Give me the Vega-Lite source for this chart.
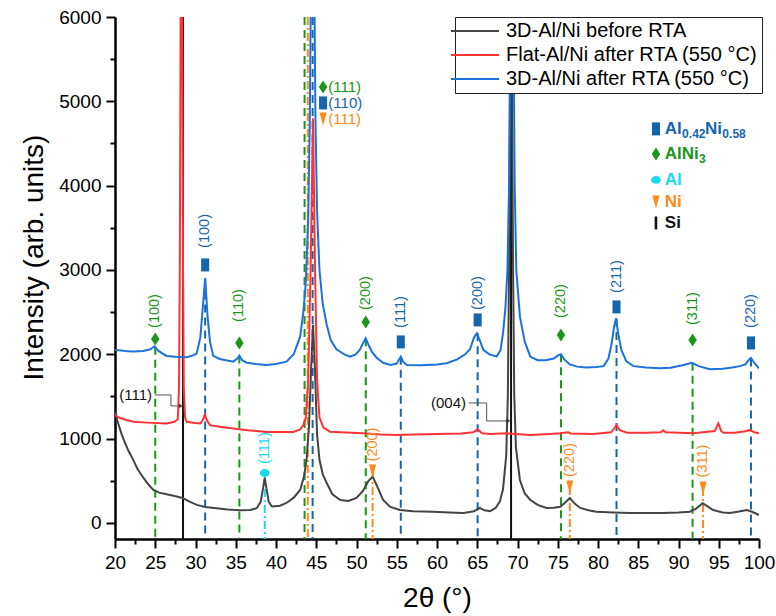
{
  "$schema": "https://vega.github.io/schema/vega-lite/v6.json",
  "width": 644,
  "height": 522,
  "autosize": {"type": "none"},
  "padding": {"left": 115, "top": 17, "right": 17, "bottom": 77},
  "config": {
    "view": {"stroke": null},
    "font": "Liberation Sans",
    "text": {"font": "Liberation Sans"}
  },
  "datasets": {
    "spectra": [
      {"series": "3D-Al/Ni before RTA", "x": 20.0, "y": 1320},
      {"series": "3D-Al/Ni before RTA", "x": 20.4, "y": 1180},
      {"series": "3D-Al/Ni before RTA", "x": 20.8, "y": 1060},
      {"series": "3D-Al/Ni before RTA", "x": 21.2, "y": 960},
      {"series": "3D-Al/Ni before RTA", "x": 21.7, "y": 850},
      {"series": "3D-Al/Ni before RTA", "x": 22.2, "y": 760},
      {"series": "3D-Al/Ni before RTA", "x": 22.8, "y": 640},
      {"series": "3D-Al/Ni before RTA", "x": 23.5, "y": 540},
      {"series": "3D-Al/Ni before RTA", "x": 24.2, "y": 450},
      {"series": "3D-Al/Ni before RTA", "x": 24.8, "y": 390},
      {"series": "3D-Al/Ni before RTA", "x": 25.5, "y": 360},
      {"series": "3D-Al/Ni before RTA", "x": 26.4, "y": 340},
      {"series": "3D-Al/Ni before RTA", "x": 27.4, "y": 320},
      {"series": "3D-Al/Ni before RTA", "x": 28.4, "y": 296},
      {"series": "3D-Al/Ni before RTA", "x": 29.2, "y": 255},
      {"series": "3D-Al/Ni before RTA", "x": 30.15, "y": 215},
      {"series": "3D-Al/Ni before RTA", "x": 31.2, "y": 190},
      {"series": "3D-Al/Ni before RTA", "x": 32.6, "y": 175},
      {"series": "3D-Al/Ni before RTA", "x": 34.0, "y": 160},
      {"series": "3D-Al/Ni before RTA", "x": 35.5, "y": 150},
      {"series": "3D-Al/Ni before RTA", "x": 36.8, "y": 155},
      {"series": "3D-Al/Ni before RTA", "x": 37.6, "y": 175},
      {"series": "3D-Al/Ni before RTA", "x": 38.1, "y": 250},
      {"series": "3D-Al/Ni before RTA", "x": 38.4, "y": 420},
      {"series": "3D-Al/Ni before RTA", "x": 38.6, "y": 534},
      {"series": "3D-Al/Ni before RTA", "x": 38.8, "y": 420},
      {"series": "3D-Al/Ni before RTA", "x": 39.1, "y": 250},
      {"series": "3D-Al/Ni before RTA", "x": 39.5, "y": 195},
      {"series": "3D-Al/Ni before RTA", "x": 40.5, "y": 205},
      {"series": "3D-Al/Ni before RTA", "x": 41.3, "y": 237},
      {"series": "3D-Al/Ni before RTA", "x": 42.2, "y": 300},
      {"series": "3D-Al/Ni before RTA", "x": 43.0, "y": 391},
      {"series": "3D-Al/Ni before RTA", "x": 43.5, "y": 560},
      {"series": "3D-Al/Ni before RTA", "x": 43.8, "y": 750},
      {"series": "3D-Al/Ni before RTA", "x": 44.1, "y": 1150},
      {"series": "3D-Al/Ni before RTA", "x": 44.35, "y": 1800},
      {"series": "3D-Al/Ni before RTA", "x": 44.6, "y": 2350},
      {"series": "3D-Al/Ni before RTA", "x": 44.85, "y": 1800},
      {"series": "3D-Al/Ni before RTA", "x": 45.1, "y": 1050},
      {"series": "3D-Al/Ni before RTA", "x": 45.4, "y": 750},
      {"series": "3D-Al/Ni before RTA", "x": 45.8, "y": 580},
      {"series": "3D-Al/Ni before RTA", "x": 46.3, "y": 474},
      {"series": "3D-Al/Ni before RTA", "x": 47.0, "y": 340},
      {"series": "3D-Al/Ni before RTA", "x": 48.0, "y": 273},
      {"series": "3D-Al/Ni before RTA", "x": 49.0, "y": 260},
      {"series": "3D-Al/Ni before RTA", "x": 50.0, "y": 296},
      {"series": "3D-Al/Ni before RTA", "x": 50.8, "y": 380},
      {"series": "3D-Al/Ni before RTA", "x": 51.5, "y": 500},
      {"series": "3D-Al/Ni before RTA", "x": 52.0, "y": 549},
      {"series": "3D-Al/Ni before RTA", "x": 52.5, "y": 450},
      {"series": "3D-Al/Ni before RTA", "x": 53.3, "y": 273},
      {"series": "3D-Al/Ni before RTA", "x": 54.2, "y": 190},
      {"series": "3D-Al/Ni before RTA", "x": 55.4, "y": 154},
      {"series": "3D-Al/Ni before RTA", "x": 57.0, "y": 140},
      {"series": "3D-Al/Ni before RTA", "x": 59.5, "y": 134},
      {"series": "3D-Al/Ni before RTA", "x": 61.5, "y": 125},
      {"series": "3D-Al/Ni before RTA", "x": 63.3, "y": 119},
      {"series": "3D-Al/Ni before RTA", "x": 64.6, "y": 140},
      {"series": "3D-Al/Ni before RTA", "x": 65.3, "y": 178},
      {"series": "3D-Al/Ni before RTA", "x": 65.9, "y": 150},
      {"series": "3D-Al/Ni before RTA", "x": 66.6, "y": 140},
      {"series": "3D-Al/Ni before RTA", "x": 67.3, "y": 180},
      {"series": "3D-Al/Ni before RTA", "x": 67.8, "y": 253},
      {"series": "3D-Al/Ni before RTA", "x": 68.2, "y": 400},
      {"series": "3D-Al/Ni before RTA", "x": 68.6, "y": 800},
      {"series": "3D-Al/Ni before RTA", "x": 68.8, "y": 1500},
      {"series": "3D-Al/Ni before RTA", "x": 68.95, "y": 3000},
      {"series": "3D-Al/Ni before RTA", "x": 69.1, "y": 5500},
      {"series": "3D-Al/Ni before RTA", "x": 69.2, "y": 8000},
      {"series": "3D-Al/Ni before RTA", "x": 69.3, "y": 5500},
      {"series": "3D-Al/Ni before RTA", "x": 69.45, "y": 3000},
      {"series": "3D-Al/Ni before RTA", "x": 69.6, "y": 1500},
      {"series": "3D-Al/Ni before RTA", "x": 69.8, "y": 900},
      {"series": "3D-Al/Ni before RTA", "x": 70.3, "y": 510},
      {"series": "3D-Al/Ni before RTA", "x": 70.9, "y": 350},
      {"series": "3D-Al/Ni before RTA", "x": 71.6, "y": 273},
      {"series": "3D-Al/Ni before RTA", "x": 72.5, "y": 215},
      {"series": "3D-Al/Ni before RTA", "x": 73.6, "y": 178},
      {"series": "3D-Al/Ni before RTA", "x": 74.5, "y": 180},
      {"series": "3D-Al/Ni before RTA", "x": 75.3, "y": 193},
      {"series": "3D-Al/Ni before RTA", "x": 75.9, "y": 240},
      {"series": "3D-Al/Ni before RTA", "x": 76.5, "y": 296},
      {"series": "3D-Al/Ni before RTA", "x": 77.1, "y": 230},
      {"series": "3D-Al/Ni before RTA", "x": 77.8, "y": 178},
      {"series": "3D-Al/Ni before RTA", "x": 78.8, "y": 150},
      {"series": "3D-Al/Ni before RTA", "x": 79.8, "y": 134},
      {"series": "3D-Al/Ni before RTA", "x": 82.0, "y": 125},
      {"series": "3D-Al/Ni before RTA", "x": 84.0, "y": 119},
      {"series": "3D-Al/Ni before RTA", "x": 86.0, "y": 119},
      {"series": "3D-Al/Ni before RTA", "x": 88.1, "y": 119},
      {"series": "3D-Al/Ni before RTA", "x": 90.0, "y": 125},
      {"series": "3D-Al/Ni before RTA", "x": 91.4, "y": 134},
      {"series": "3D-Al/Ni before RTA", "x": 92.2, "y": 170},
      {"series": "3D-Al/Ni before RTA", "x": 93.0, "y": 234},
      {"series": "3D-Al/Ni before RTA", "x": 93.7, "y": 190},
      {"series": "3D-Al/Ni before RTA", "x": 94.3, "y": 154},
      {"series": "3D-Al/Ni before RTA", "x": 95.5, "y": 125},
      {"series": "3D-Al/Ni before RTA", "x": 96.4, "y": 119},
      {"series": "3D-Al/Ni before RTA", "x": 97.5, "y": 135},
      {"series": "3D-Al/Ni before RTA", "x": 98.5, "y": 154},
      {"series": "3D-Al/Ni before RTA", "x": 99.2, "y": 130},
      {"series": "3D-Al/Ni before RTA", "x": 100.0, "y": 95},

      {"series": "Flat-Al/Ni after RTA (550 °C)", "x": 20.0, "y": 1280},
      {"series": "Flat-Al/Ni after RTA (550 °C)", "x": 20.5, "y": 1250},
      {"series": "Flat-Al/Ni after RTA (550 °C)", "x": 21.3, "y": 1225},
      {"series": "Flat-Al/Ni after RTA (550 °C)", "x": 22.3, "y": 1200},
      {"series": "Flat-Al/Ni after RTA (550 °C)", "x": 24.0, "y": 1190},
      {"series": "Flat-Al/Ni after RTA (550 °C)", "x": 26.4, "y": 1180},
      {"series": "Flat-Al/Ni after RTA (550 °C)", "x": 27.4, "y": 1200},
      {"series": "Flat-Al/Ni after RTA (550 °C)", "x": 27.8, "y": 1230},
      {"series": "Flat-Al/Ni after RTA (550 °C)", "x": 27.95, "y": 1600},
      {"series": "Flat-Al/Ni after RTA (550 °C)", "x": 28.05, "y": 3000},
      {"series": "Flat-Al/Ni after RTA (550 °C)", "x": 28.15, "y": 6000},
      {"series": "Flat-Al/Ni after RTA (550 °C)", "x": 28.25, "y": 9000},
      {"series": "Flat-Al/Ni after RTA (550 °C)", "x": 28.35, "y": 6000},
      {"series": "Flat-Al/Ni after RTA (550 °C)", "x": 28.45, "y": 3000},
      {"series": "Flat-Al/Ni after RTA (550 °C)", "x": 28.55, "y": 1600},
      {"series": "Flat-Al/Ni after RTA (550 °C)", "x": 28.7, "y": 1250},
      {"series": "Flat-Al/Ni after RTA (550 °C)", "x": 28.9, "y": 1200},
      {"series": "Flat-Al/Ni after RTA (550 °C)", "x": 30.0, "y": 1185},
      {"series": "Flat-Al/Ni after RTA (550 °C)", "x": 30.6, "y": 1180},
      {"series": "Flat-Al/Ni after RTA (550 °C)", "x": 30.9, "y": 1220},
      {"series": "Flat-Al/Ni after RTA (550 °C)", "x": 31.15, "y": 1285},
      {"series": "Flat-Al/Ni after RTA (550 °C)", "x": 31.4, "y": 1220},
      {"series": "Flat-Al/Ni after RTA (550 °C)", "x": 31.8, "y": 1160},
      {"series": "Flat-Al/Ni after RTA (550 °C)", "x": 33.0, "y": 1140},
      {"series": "Flat-Al/Ni after RTA (550 °C)", "x": 34.7, "y": 1120},
      {"series": "Flat-Al/Ni after RTA (550 °C)", "x": 36.5, "y": 1100},
      {"series": "Flat-Al/Ni after RTA (550 °C)", "x": 38.85, "y": 1080},
      {"series": "Flat-Al/Ni after RTA (550 °C)", "x": 41.0, "y": 1080},
      {"series": "Flat-Al/Ni after RTA (550 °C)", "x": 42.15, "y": 1080},
      {"series": "Flat-Al/Ni after RTA (550 °C)", "x": 43.0, "y": 1110},
      {"series": "Flat-Al/Ni after RTA (550 °C)", "x": 43.4, "y": 1160},
      {"series": "Flat-Al/Ni after RTA (550 °C)", "x": 43.7, "y": 1250},
      {"series": "Flat-Al/Ni after RTA (550 °C)", "x": 44.0, "y": 1700},
      {"series": "Flat-Al/Ni after RTA (550 °C)", "x": 44.3, "y": 3000},
      {"series": "Flat-Al/Ni after RTA (550 °C)", "x": 44.6, "y": 4800},
      {"series": "Flat-Al/Ni after RTA (550 °C)", "x": 44.85, "y": 3000},
      {"series": "Flat-Al/Ni after RTA (550 °C)", "x": 45.1, "y": 1700},
      {"series": "Flat-Al/Ni after RTA (550 °C)", "x": 45.4, "y": 1250},
      {"series": "Flat-Al/Ni after RTA (550 °C)", "x": 45.9, "y": 1130},
      {"series": "Flat-Al/Ni after RTA (550 °C)", "x": 46.7, "y": 1083},
      {"series": "Flat-Al/Ni after RTA (550 °C)", "x": 48.0, "y": 1075},
      {"series": "Flat-Al/Ni after RTA (550 °C)", "x": 50.85, "y": 1063},
      {"series": "Flat-Al/Ni after RTA (550 °C)", "x": 53.0, "y": 1050},
      {"series": "Flat-Al/Ni after RTA (550 °C)", "x": 55.0, "y": 1044},
      {"series": "Flat-Al/Ni after RTA (550 °C)", "x": 57.0, "y": 1050},
      {"series": "Flat-Al/Ni after RTA (550 °C)", "x": 60.0, "y": 1055},
      {"series": "Flat-Al/Ni after RTA (550 °C)", "x": 63.0, "y": 1060},
      {"series": "Flat-Al/Ni after RTA (550 °C)", "x": 64.5, "y": 1075},
      {"series": "Flat-Al/Ni after RTA (550 °C)", "x": 65.05, "y": 1110},
      {"series": "Flat-Al/Ni after RTA (550 °C)", "x": 65.6, "y": 1065},
      {"series": "Flat-Al/Ni after RTA (550 °C)", "x": 66.6, "y": 1055},
      {"series": "Flat-Al/Ni after RTA (550 °C)", "x": 68.65, "y": 1063},
      {"series": "Flat-Al/Ni after RTA (550 °C)", "x": 71.6, "y": 1044},
      {"series": "Flat-Al/Ni after RTA (550 °C)", "x": 74.0, "y": 1055},
      {"series": "Flat-Al/Ni after RTA (550 °C)", "x": 75.3, "y": 1063},
      {"series": "Flat-Al/Ni after RTA (550 °C)", "x": 76.3, "y": 1075},
      {"series": "Flat-Al/Ni after RTA (550 °C)", "x": 76.6, "y": 1062},
      {"series": "Flat-Al/Ni after RTA (550 °C)", "x": 79.4, "y": 1055},
      {"series": "Flat-Al/Ni after RTA (550 °C)", "x": 81.6, "y": 1075},
      {"series": "Flat-Al/Ni after RTA (550 °C)", "x": 82.0, "y": 1120},
      {"series": "Flat-Al/Ni after RTA (550 °C)", "x": 82.3, "y": 1162},
      {"series": "Flat-Al/Ni after RTA (550 °C)", "x": 82.7, "y": 1100},
      {"series": "Flat-Al/Ni after RTA (550 °C)", "x": 83.6, "y": 1071},
      {"series": "Flat-Al/Ni after RTA (550 °C)", "x": 86.0, "y": 1070},
      {"series": "Flat-Al/Ni after RTA (550 °C)", "x": 87.8, "y": 1075},
      {"series": "Flat-Al/Ni after RTA (550 °C)", "x": 88.1, "y": 1100},
      {"series": "Flat-Al/Ni after RTA (550 °C)", "x": 88.4, "y": 1075},
      {"series": "Flat-Al/Ni after RTA (550 °C)", "x": 91.85, "y": 1063},
      {"series": "Flat-Al/Ni after RTA (550 °C)", "x": 94.5, "y": 1090},
      {"series": "Flat-Al/Ni after RTA (550 °C)", "x": 94.95, "y": 1182},
      {"series": "Flat-Al/Ni after RTA (550 °C)", "x": 95.3, "y": 1090},
      {"series": "Flat-Al/Ni after RTA (550 °C)", "x": 95.6, "y": 1070},
      {"series": "Flat-Al/Ni after RTA (550 °C)", "x": 97.0, "y": 1070},
      {"series": "Flat-Al/Ni after RTA (550 °C)", "x": 98.5, "y": 1090},
      {"series": "Flat-Al/Ni after RTA (550 °C)", "x": 98.9, "y": 1103},
      {"series": "Flat-Al/Ni after RTA (550 °C)", "x": 99.4, "y": 1075},
      {"series": "Flat-Al/Ni after RTA (550 °C)", "x": 100.0, "y": 1063},

      {"series": "3D-Al/Ni after RTA (550 °C)", "x": 20.0, "y": 2052},
      {"series": "3D-Al/Ni after RTA (550 °C)", "x": 20.8, "y": 2045},
      {"series": "3D-Al/Ni after RTA (550 °C)", "x": 21.6, "y": 2035},
      {"series": "3D-Al/Ni after RTA (550 °C)", "x": 22.3, "y": 2032},
      {"series": "3D-Al/Ni after RTA (550 °C)", "x": 23.5, "y": 2040},
      {"series": "3D-Al/Ni after RTA (550 °C)", "x": 24.4, "y": 2060},
      {"series": "3D-Al/Ni after RTA (550 °C)", "x": 24.9, "y": 2095},
      {"series": "3D-Al/Ni after RTA (550 °C)", "x": 25.4, "y": 2040},
      {"series": "3D-Al/Ni after RTA (550 °C)", "x": 26.4, "y": 1981},
      {"series": "3D-Al/Ni after RTA (550 °C)", "x": 27.5, "y": 1970},
      {"series": "3D-Al/Ni after RTA (550 °C)", "x": 28.9, "y": 1965},
      {"series": "3D-Al/Ni after RTA (550 °C)", "x": 29.8, "y": 1990},
      {"series": "3D-Al/Ni after RTA (550 °C)", "x": 30.15, "y": 2012},
      {"series": "3D-Al/Ni after RTA (550 °C)", "x": 30.6, "y": 2200},
      {"series": "3D-Al/Ni after RTA (550 °C)", "x": 30.9, "y": 2550},
      {"series": "3D-Al/Ni after RTA (550 °C)", "x": 31.2, "y": 2902},
      {"series": "3D-Al/Ni after RTA (550 °C)", "x": 31.5, "y": 2450},
      {"series": "3D-Al/Ni after RTA (550 °C)", "x": 31.8, "y": 2150},
      {"series": "3D-Al/Ni after RTA (550 °C)", "x": 32.2, "y": 1981},
      {"series": "3D-Al/Ni after RTA (550 °C)", "x": 33.0, "y": 1945},
      {"series": "3D-Al/Ni after RTA (550 °C)", "x": 34.7, "y": 1913},
      {"series": "3D-Al/Ni after RTA (550 °C)", "x": 35.2, "y": 1950},
      {"series": "3D-Al/Ni after RTA (550 °C)", "x": 35.45, "y": 1985},
      {"series": "3D-Al/Ni after RTA (550 °C)", "x": 35.8, "y": 1930},
      {"series": "3D-Al/Ni after RTA (550 °C)", "x": 36.35, "y": 1901},
      {"series": "3D-Al/Ni after RTA (550 °C)", "x": 37.5, "y": 1885},
      {"series": "3D-Al/Ni after RTA (550 °C)", "x": 38.85, "y": 1874},
      {"series": "3D-Al/Ni after RTA (550 °C)", "x": 40.0, "y": 1885},
      {"series": "3D-Al/Ni after RTA (550 °C)", "x": 41.3, "y": 1913},
      {"series": "3D-Al/Ni after RTA (550 °C)", "x": 42.2, "y": 2000},
      {"series": "3D-Al/Ni after RTA (550 °C)", "x": 43.0, "y": 2209},
      {"series": "3D-Al/Ni after RTA (550 °C)", "x": 43.4, "y": 2500},
      {"series": "3D-Al/Ni after RTA (550 °C)", "x": 43.7, "y": 2850},
      {"series": "3D-Al/Ni after RTA (550 °C)", "x": 44.0, "y": 3600},
      {"series": "3D-Al/Ni after RTA (550 °C)", "x": 44.2, "y": 4800},
      {"series": "3D-Al/Ni after RTA (550 °C)", "x": 44.35, "y": 6500},
      {"series": "3D-Al/Ni after RTA (550 °C)", "x": 44.55, "y": 9000},
      {"series": "3D-Al/Ni after RTA (550 °C)", "x": 44.75, "y": 6500},
      {"series": "3D-Al/Ni after RTA (550 °C)", "x": 44.9, "y": 4800},
      {"series": "3D-Al/Ni after RTA (550 °C)", "x": 45.1, "y": 3700},
      {"series": "3D-Al/Ni after RTA (550 °C)", "x": 45.4, "y": 3000},
      {"series": "3D-Al/Ni after RTA (550 °C)", "x": 45.8, "y": 2600},
      {"series": "3D-Al/Ni after RTA (550 °C)", "x": 46.3, "y": 2350},
      {"series": "3D-Al/Ni after RTA (550 °C)", "x": 46.8, "y": 2170},
      {"series": "3D-Al/Ni after RTA (550 °C)", "x": 47.5, "y": 2060},
      {"series": "3D-Al/Ni after RTA (550 °C)", "x": 48.5, "y": 2000},
      {"series": "3D-Al/Ni after RTA (550 °C)", "x": 49.2, "y": 1972},
      {"series": "3D-Al/Ni after RTA (550 °C)", "x": 49.9, "y": 2000},
      {"series": "3D-Al/Ni after RTA (550 °C)", "x": 50.4, "y": 2052},
      {"series": "3D-Al/Ni after RTA (550 °C)", "x": 50.8, "y": 2130},
      {"series": "3D-Al/Ni after RTA (550 °C)", "x": 51.15, "y": 2190},
      {"series": "3D-Al/Ni after RTA (550 °C)", "x": 51.5, "y": 2110},
      {"series": "3D-Al/Ni after RTA (550 °C)", "x": 51.9, "y": 2032},
      {"series": "3D-Al/Ni after RTA (550 °C)", "x": 52.5, "y": 1960},
      {"series": "3D-Al/Ni after RTA (550 °C)", "x": 53.3, "y": 1900},
      {"series": "3D-Al/Ni after RTA (550 °C)", "x": 54.2, "y": 1874},
      {"series": "3D-Al/Ni after RTA (550 °C)", "x": 55.0, "y": 1890},
      {"series": "3D-Al/Ni after RTA (550 °C)", "x": 55.3, "y": 1940},
      {"series": "3D-Al/Ni after RTA (550 °C)", "x": 55.5, "y": 1972},
      {"series": "3D-Al/Ni after RTA (550 °C)", "x": 55.8, "y": 1910},
      {"series": "3D-Al/Ni after RTA (550 °C)", "x": 56.25, "y": 1874},
      {"series": "3D-Al/Ni after RTA (550 °C)", "x": 58.0, "y": 1870},
      {"series": "3D-Al/Ni after RTA (550 °C)", "x": 60.0, "y": 1880},
      {"series": "3D-Al/Ni after RTA (550 °C)", "x": 61.2, "y": 1894},
      {"series": "3D-Al/Ni after RTA (550 °C)", "x": 62.5, "y": 1940},
      {"series": "3D-Al/Ni after RTA (550 °C)", "x": 63.5, "y": 2000},
      {"series": "3D-Al/Ni after RTA (550 °C)", "x": 64.1, "y": 2060},
      {"series": "3D-Al/Ni after RTA (550 °C)", "x": 64.6, "y": 2200},
      {"series": "3D-Al/Ni after RTA (550 °C)", "x": 64.95, "y": 2250},
      {"series": "3D-Al/Ni after RTA (550 °C)", "x": 65.3, "y": 2170},
      {"series": "3D-Al/Ni after RTA (550 °C)", "x": 65.75, "y": 2052},
      {"series": "3D-Al/Ni after RTA (550 °C)", "x": 66.5, "y": 2000},
      {"series": "3D-Al/Ni after RTA (550 °C)", "x": 67.4, "y": 1972},
      {"series": "3D-Al/Ni after RTA (550 °C)", "x": 67.9, "y": 2050},
      {"series": "3D-Al/Ni after RTA (550 °C)", "x": 68.2, "y": 2250},
      {"series": "3D-Al/Ni after RTA (550 °C)", "x": 68.5, "y": 2550},
      {"series": "3D-Al/Ni after RTA (550 °C)", "x": 68.75, "y": 3000},
      {"series": "3D-Al/Ni after RTA (550 °C)", "x": 68.95, "y": 4000},
      {"series": "3D-Al/Ni after RTA (550 °C)", "x": 69.1, "y": 6000},
      {"series": "3D-Al/Ni after RTA (550 °C)", "x": 69.3, "y": 9000},
      {"series": "3D-Al/Ni after RTA (550 °C)", "x": 69.5, "y": 6000},
      {"series": "3D-Al/Ni after RTA (550 °C)", "x": 69.65, "y": 4000},
      {"series": "3D-Al/Ni after RTA (550 °C)", "x": 69.85, "y": 3000},
      {"series": "3D-Al/Ni after RTA (550 °C)", "x": 70.3, "y": 2447},
      {"series": "3D-Al/Ni after RTA (550 °C)", "x": 70.9, "y": 2150},
      {"series": "3D-Al/Ni after RTA (550 °C)", "x": 71.6, "y": 1972},
      {"series": "3D-Al/Ni after RTA (550 °C)", "x": 72.5, "y": 1930},
      {"series": "3D-Al/Ni after RTA (550 °C)", "x": 73.5, "y": 1930},
      {"series": "3D-Al/Ni after RTA (550 °C)", "x": 74.5, "y": 1950},
      {"series": "3D-Al/Ni after RTA (550 °C)", "x": 75.1, "y": 1990},
      {"series": "3D-Al/Ni after RTA (550 °C)", "x": 75.4, "y": 2000},
      {"series": "3D-Al/Ni after RTA (550 °C)", "x": 75.8, "y": 1940},
      {"series": "3D-Al/Ni after RTA (550 °C)", "x": 76.5, "y": 1880},
      {"series": "3D-Al/Ni after RTA (550 °C)", "x": 77.4, "y": 1854},
      {"series": "3D-Al/Ni after RTA (550 °C)", "x": 78.5, "y": 1845},
      {"series": "3D-Al/Ni after RTA (550 °C)", "x": 79.8, "y": 1850},
      {"series": "3D-Al/Ni after RTA (550 °C)", "x": 80.7, "y": 1860},
      {"series": "3D-Al/Ni after RTA (550 °C)", "x": 81.3, "y": 1950},
      {"series": "3D-Al/Ni after RTA (550 °C)", "x": 81.7, "y": 2131},
      {"series": "3D-Al/Ni after RTA (550 °C)", "x": 82.0, "y": 2330},
      {"series": "3D-Al/Ni after RTA (550 °C)", "x": 82.25, "y": 2428},
      {"series": "3D-Al/Ni after RTA (550 °C)", "x": 82.5, "y": 2250},
      {"series": "3D-Al/Ni after RTA (550 °C)", "x": 82.9, "y": 2052},
      {"series": "3D-Al/Ni after RTA (550 °C)", "x": 83.5, "y": 1920},
      {"series": "3D-Al/Ni after RTA (550 °C)", "x": 84.4, "y": 1860},
      {"series": "3D-Al/Ni after RTA (550 °C)", "x": 86.0, "y": 1845},
      {"series": "3D-Al/Ni after RTA (550 °C)", "x": 87.7, "y": 1835},
      {"series": "3D-Al/Ni after RTA (550 °C)", "x": 89.0, "y": 1840},
      {"series": "3D-Al/Ni after RTA (550 °C)", "x": 90.5, "y": 1870},
      {"series": "3D-Al/Ni after RTA (550 °C)", "x": 91.65, "y": 1900},
      {"series": "3D-Al/Ni after RTA (550 °C)", "x": 92.5, "y": 1860},
      {"series": "3D-Al/Ni after RTA (550 °C)", "x": 93.9, "y": 1823},
      {"series": "3D-Al/Ni after RTA (550 °C)", "x": 95.5, "y": 1830},
      {"series": "3D-Al/Ni after RTA (550 °C)", "x": 96.5, "y": 1840},
      {"series": "3D-Al/Ni after RTA (550 °C)", "x": 97.65, "y": 1860},
      {"series": "3D-Al/Ni after RTA (550 °C)", "x": 98.3, "y": 1880},
      {"series": "3D-Al/Ni after RTA (550 °C)", "x": 98.7, "y": 1930},
      {"series": "3D-Al/Ni after RTA (550 °C)", "x": 99.0, "y": 1955},
      {"series": "3D-Al/Ni after RTA (550 °C)", "x": 99.4, "y": 1900},
      {"series": "3D-Al/Ni after RTA (550 °C)", "x": 100.0, "y": 1835}
    ],
    "refs": [
      {"phase": "Al0.42Ni0.58", "x": 31.2, "y": 2900},
      {"phase": "Al0.42Ni0.58", "x": 44.55, "y": 6000},
      {"phase": "Al0.42Ni0.58", "x": 55.5, "y": 1970},
      {"phase": "Al0.42Ni0.58", "x": 65.05, "y": 2250},
      {"phase": "Al0.42Ni0.58", "x": 82.3, "y": 2420},
      {"phase": "Al0.42Ni0.58", "x": 99.0, "y": 1950},
      {"phase": "AlNi3", "x": 25.0, "y": 2090},
      {"phase": "AlNi3", "x": 35.45, "y": 1985},
      {"phase": "AlNi3", "x": 43.55, "y": 6000},
      {"phase": "AlNi3", "x": 51.15, "y": 2190},
      {"phase": "AlNi3", "x": 75.4, "y": 2000},
      {"phase": "AlNi3", "x": 91.75, "y": 1900},
      {"phase": "Al", "x": 38.6, "y": 593},
      {"phase": "Ni", "x": 43.95, "y": 6000},
      {"phase": "Ni", "x": 52.0, "y": 617},
      {"phase": "Ni", "x": 76.5, "y": 427},
      {"phase": "Ni", "x": 93.05, "y": 415},
      {"phase": "Si", "x": 28.45, "y": 6000},
      {"phase": "Si", "x": 69.2, "y": 6000}
    ],
    "markers": [
      {"phase": "Al0.42Ni0.58", "x": 31.2, "y": 3060},
      {"phase": "Al0.42Ni0.58", "x": 55.5, "y": 2147},
      {"phase": "Al0.42Ni0.58", "x": 65.05, "y": 2408},
      {"phase": "Al0.42Ni0.58", "x": 82.3, "y": 2562},
      {"phase": "Al0.42Ni0.58", "x": 99.0, "y": 2135},
      {"phase": "Al0.42Ni0.58", "x": 45.85, "y": 4981},
      {"phase": "Al0.42Ni0.58", "x": 87.2, "y": 4673},
      {"phase": "AlNi3", "x": 25.0, "y": 2182},
      {"phase": "AlNi3", "x": 35.45, "y": 2135},
      {"phase": "AlNi3", "x": 51.15, "y": 2384},
      {"phase": "AlNi3", "x": 75.4, "y": 2230},
      {"phase": "AlNi3", "x": 91.75, "y": 2170},
      {"phase": "AlNi3", "x": 45.85, "y": 5171},
      {"phase": "AlNi3", "x": 87.2, "y": 4376},
      {"phase": "Al", "x": 38.6, "y": 593},
      {"phase": "Al", "x": 87.2, "y": 4068},
      {"phase": "Ni", "x": 52.0, "y": 617},
      {"phase": "Ni", "x": 76.5, "y": 427},
      {"phase": "Ni", "x": 93.05, "y": 415},
      {"phase": "Ni", "x": 45.85, "y": 4791},
      {"phase": "Ni", "x": 87.2, "y": 3807},
      {"phase": "Si", "x": 87.2, "y": 3558}
    ],
    "hkl": [
      {"phase": "AlNi3", "x": 25.0, "y": 2313, "label": "(100)"},
      {"phase": "Al0.42Ni0.58", "x": 31.2, "y": 3262, "label": "(100)"},
      {"phase": "AlNi3", "x": 35.45, "y": 2384, "label": "(110)"},
      {"phase": "AlNi3", "x": 51.15, "y": 2526, "label": "(200)"},
      {"phase": "Al0.42Ni0.58", "x": 55.5, "y": 2313, "label": "(111)"},
      {"phase": "Al0.42Ni0.58", "x": 65.05, "y": 2526, "label": "(200)"},
      {"phase": "AlNi3", "x": 75.4, "y": 2431, "label": "(220)"},
      {"phase": "Al0.42Ni0.58", "x": 82.3, "y": 2728, "label": "(211)"},
      {"phase": "AlNi3", "x": 91.75, "y": 2348, "label": "(311)"},
      {"phase": "Al0.42Ni0.58", "x": 99.0, "y": 2313, "label": "(220)"},
      {"phase": "Al", "x": 38.6, "y": 700, "label": "(111)"},
      {"phase": "Ni", "x": 52.0, "y": 730, "label": "(200)"},
      {"phase": "Ni", "x": 76.5, "y": 545, "label": "(220)"},
      {"phase": "Ni", "x": 93.05, "y": 540, "label": "(311)"}
    ],
    "hklTop": [
      {"phase": "AlNi3", "x": 46.5, "y": 5171, "label": "(111)"},
      {"phase": "Al0.42Ni0.58", "x": 46.5, "y": 4981, "label": "(110)"},
      {"phase": "Ni", "x": 46.5, "y": 4791, "label": "(111)"}
    ],
    "phaseKey": [
      {"phase": "Al0.42Ni0.58", "x": 88.3, "y": 4673, "label": "Al"},
      {"phase": "Al0.42Ni0.58", "x": 93.3, "y": 4673, "label": "Ni"},
      {"phase": "AlNi3", "x": 88.3, "y": 4376, "label": "AlNi"},
      {"phase": "Al", "x": 88.3, "y": 4068, "label": "Al"},
      {"phase": "Ni", "x": 88.3, "y": 3807, "label": "Ni"},
      {"phase": "Si", "x": 88.3, "y": 3558, "label": "Si"}
    ],
    "phaseSub": [
      {"phase": "Al0.42Ni0.58", "x": 90.45, "y": 4610, "label": "0.42"},
      {"phase": "Al0.42Ni0.58", "x": 95.45, "y": 4610, "label": "0.58"},
      {"phase": "AlNi3", "x": 92.55, "y": 4313, "label": "3"}
    ],
    "siText": [
      {"x": 24.6, "y": 1518, "label": "(111)"},
      {"x": 63.6, "y": 1423, "label": "(004)"}
    ],
    "connectors": [
      {"ann": "a", "ord": 1, "x": 24.95, "y": 1518},
      {"ann": "a", "ord": 2, "x": 26.95, "y": 1518},
      {"ann": "a", "ord": 3, "x": 26.95, "y": 1388},
      {"ann": "a", "ord": 4, "x": 28.1, "y": 1388},
      {"ann": "b", "ord": 1, "x": 63.95, "y": 1423},
      {"ann": "b", "ord": 2, "x": 66.17, "y": 1423},
      {"ann": "b", "ord": 3, "x": 66.17, "y": 1210},
      {"ann": "b", "ord": 4, "x": 68.8, "y": 1210}
    ],
    "arrows": [
      {"x": 28.2, "y": 1388},
      {"x": 68.9, "y": 1210}
    ]
  },
  "encoding": {
    "x": {
      "field": "x", "type": "quantitative",
      "scale": {"domain": [20, 100], "nice": false, "zero": false},
      "axis": {
        "title": "2θ (°)",
        "values": [20, 22.5, 25, 27.5, 30, 32.5, 35, 37.5, 40, 42.5, 45, 47.5, 50, 52.5, 55, 57.5, 60, 62.5, 65, 67.5, 70, 72.5, 75, 77.5, 80, 82.5, 85, 87.5, 90, 92.5, 95, 97.5, 100],
        "labelExpr": "datum.value % 5 === 0 ? datum.label : ''",
        "tickSize": {"condition": {"test": "datum.value % 5 === 0", "value": 9}, "value": 5},
        "labelFlush": false, "labelOverlap": false, "grid": false,
        "domainColor": "black", "domainWidth": 2.5, "tickColor": "black", "tickWidth": 2,
        "labelFont": "Liberation Sans", "labelFontSize": 19, "labelColor": "black", "labelPadding": 5,
        "titleFont": "Liberation Sans", "titleFontSize": 28, "titleFontWeight": "normal", "titleColor": "black", "titlePadding": 12
      }
    },
    "y": {
      "field": "y", "type": "quantitative",
      "scale": {"domain": [-190, 6000], "nice": false, "zero": false},
      "axis": {
        "title": "Intensity (arb. units)",
        "values": [0, 500, 1000, 1500, 2000, 2500, 3000, 3500, 4000, 4500, 5000, 5500, 6000],
        "labelExpr": "datum.value % 1000 === 0 ? datum.label : ''",
        "format": "d",
        "tickSize": {"condition": {"test": "datum.value % 1000 === 0", "value": 9}, "value": 5},
        "labelOverlap": false, "labelFlush": false, "grid": false,
        "domainColor": "black", "domainWidth": 2.5, "tickColor": "black", "tickWidth": 2,
        "labelFont": "Liberation Sans", "labelFontSize": 19, "labelColor": "black", "labelPadding": 5,
        "titleFont": "Liberation Sans", "titleFontSize": 28, "titleFontWeight": "normal", "titleColor": "black", "titlePadding": 10,
        "titleY": 240
      }
    }
  },
  "layer": [
    {
      "data": {"name": "refs"},
      "mark": {"type": "rule"},
      "encoding": {
        "y2": {"datum": -190},
        "color": {"field": "phase", "type": "nominal", "legend": null,
          "scale": {"domain": ["Al0.42Ni0.58", "AlNi3", "Al", "Ni", "Si"], "range": ["#1565ad", "#1a961a", "#18d9ee", "#ff8a1a", "#111111"]}},
        "strokeDash": {"field": "phase", "type": "nominal", "legend": null,
          "scale": {"domain": ["Al0.42Ni0.58", "AlNi3", "Al", "Ni", "Si"], "range": [[8, 5], [8, 5], [8, 3, 2, 3], [8, 3, 2, 3], [1, 0]]}},
        "strokeWidth": {"field": "phase", "type": "nominal", "legend": null,
          "scale": {"domain": ["Al0.42Ni0.58", "AlNi3", "Al", "Ni", "Si"], "range": [2, 2, 2, 2, 1.5]}}
      }
    },
    {
      "data": {"values": [{}]},
      "mark": {"type": "rule", "color": "#b0b0b0", "strokeWidth": 1.5},
      "encoding": {
        "x": {"datum": 100, "type": "quantitative"},
        "y": {"datum": -190, "type": "quantitative"},
        "y2": {"datum": 6000}
      }
    },
    {
      "data": {"name": "spectra"},
      "mark": {"type": "line", "clip": true, "strokeWidth": 2},
      "encoding": {
        "stroke": {
          "field": "series", "type": "nominal",
          "scale": {"domain": ["3D-Al/Ni before RTA", "Flat-Al/Ni after RTA (550 °C)", "3D-Al/Ni after RTA (550 °C)"], "range": ["#444444", "#ff3333", "#1b72dc"]},
          "legend": {
            "orient": "none", "legendX": 340, "legendY": 0, "title": null,
            "fillColor": "white", "strokeColor": "#222222", "padding": 4,
            "labelFont": "Liberation Sans", "labelFontSize": 20, "labelColor": "black", "labelLimit": 400,
            "symbolType": "M-4.8,0H4.8", "symbolSize": 100, "symbolStrokeWidth": 2,
            "symbolOffset": 6, "labelOffset": 21, "rowPadding": 4
          }
        }
      }
    },
    {
      "data": {"name": "connectors"},
      "mark": {"type": "line", "color": "#555555", "strokeWidth": 1},
      "encoding": {
        "detail": {"field": "ann", "type": "nominal"},
        "order": {"field": "ord", "type": "quantitative"}
      }
    },
    {
      "data": {"name": "arrows"},
      "mark": {"type": "point", "shape": "triangle-right", "filled": true, "color": "#111111", "size": 22}
    },
    {
      "data": {"name": "markers"},
      "mark": {"type": "point", "filled": true, "opacity": 1, "size": 169, "strokeWidth": 0},
      "encoding": {
        "color": {"field": "phase", "type": "nominal", "legend": null},
        "shape": {"field": "phase", "type": "nominal", "legend": null,
          "scale": {"domain": ["Al0.42Ni0.58", "AlNi3", "Al", "Ni", "Si"],
            "range": ["M-0.62,-1H0.62V1H-0.62Z", "M0,-1L0.65,0L0,1L-0.65,0Z", "M-0.75,0A0.75,0.6 0 1,0 0.75,0A0.75,0.6 0 1,0 -0.75,0Z", "M-0.55,-1L0.55,-1L0,1Z", "M-0.2,-1H0.2V1H-0.2Z"]}}
      }
    },
    {
      "data": {"name": "hkl"},
      "mark": {"type": "text", "angle": 270, "align": "left", "baseline": "middle", "fontSize": 14.5, "font": "Liberation Sans"},
      "encoding": {
        "text": {"field": "label"},
        "color": {"field": "phase", "type": "nominal", "legend": null}
      }
    },
    {
      "data": {"name": "hklTop"},
      "mark": {"type": "text", "align": "left", "baseline": "middle", "fontSize": 15, "font": "Liberation Sans"},
      "encoding": {
        "text": {"field": "label"},
        "color": {"field": "phase", "type": "nominal", "legend": null}
      }
    },
    {
      "data": {"name": "phaseKey"},
      "mark": {"type": "text", "align": "left", "baseline": "middle", "fontSize": 17, "fontWeight": "bold", "font": "Liberation Sans"},
      "encoding": {
        "text": {"field": "label"},
        "color": {"field": "phase", "type": "nominal", "legend": null}
      }
    },
    {
      "data": {"name": "phaseSub"},
      "mark": {"type": "text", "align": "left", "baseline": "middle", "fontSize": 12, "fontWeight": "bold", "font": "Liberation Sans"},
      "encoding": {
        "text": {"field": "label"},
        "color": {"field": "phase", "type": "nominal", "legend": null}
      }
    },
    {
      "data": {"name": "siText"},
      "mark": {"type": "text", "align": "right", "baseline": "middle", "fontSize": 15, "font": "Liberation Sans", "color": "#111111"},
      "encoding": {
        "text": {"field": "label"}
      }
    }
  ]
}
